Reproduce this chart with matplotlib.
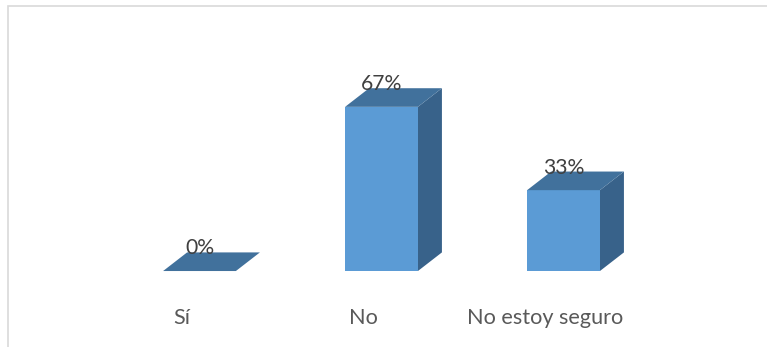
import matplotlib.pyplot as plt
from matplotlib.patches import Polygon, Rectangle

categories = ['Sí', 'No', 'No estoy seguro']
values = [0, 67, 33]
labels = ['0%', '67%', '33%']

front_col = '#5B9BD5'
top_col = '#41719C'
side_col = '#38628A'

w = 0.40     # bar width (category units)
dx = 0.132   # depth shift to the right
dy = 7.6     # depth shift upward (percent units)

plt.rcParams['font.family'] = ['Lato', 'DejaVu Sans']

fig = plt.figure(figsize=(7.67, 3.47), dpi=100)
ax = fig.add_axes([0, 0, 1, 1])
ax.set_xlim(-1.096, 3.118)
ax.set_ylim(-31.0, 110.6)
ax.axis('off')

# chart frame, only top and left edges fall inside the image
fig.patches.append(Rectangle((8 / 767, -0.1), 1.2, (347 - 6) / 347 + 0.1,
                             transform=fig.transFigure, fill=False,
                             edgecolor='#D9D9D9', linewidth=1.2))

for i, (v, lab) in enumerate(zip(values, labels)):
    x0, x1 = i - w / 2, i + w / 2
    # right side
    if v > 0:
        ax.add_patch(Polygon([(x1, 0), (x1 + dx, dy), (x1 + dx, v + dy), (x1, v)],
                             closed=True, facecolor=side_col, edgecolor='none'))
        # front face
        ax.add_patch(Rectangle((x0, 0), w, v, facecolor=front_col, edgecolor='none'))
    # top face
    ax.add_patch(Polygon([(x0, v), (x1, v), (x1 + dx, v + dy), (x0 + dx, v + dy)],
                         closed=True, facecolor=top_col, edgecolor='none'))
    ax.text(i, v + dy - 0.8, lab, ha='center', va='baseline',
            fontsize=15.2, color='#404040')

for i, c in enumerate(categories):
    ax.text(i - 0.1, -19.2, c, ha='center', va='center', fontsize=15.6, color='#595959')

fig.savefig('out.png', dpi=100)
